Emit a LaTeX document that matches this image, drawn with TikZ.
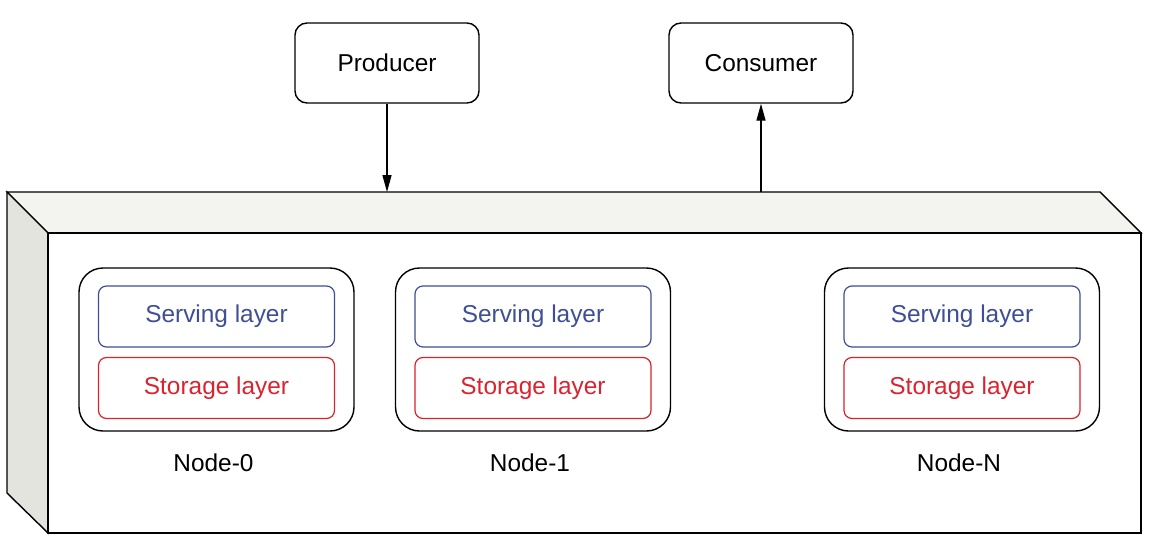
\documentclass[tikz,border=0pt]{standalone}
\usepackage{fontspec}
\setmainfont{Liberation Sans}
\usetikzlibrary{arrows.meta,positioning}
\definecolor{servblue}{HTML}{3F4F95}
\definecolor{storred}{HTML}{D9232E}
\definecolor{topface}{HTML}{F3F4EF}
\definecolor{sideface}{HTML}{E3E4DE}

\begin{document}
\begin{tikzpicture}[x=1pt,y=-1pt,line width=1.4pt,
  font=\fontsize{24.4}{29}\selectfont,
  client/.style={draw,rounded corners=12pt,minimum width=184pt,minimum height=80pt},
  broker/.style={draw,rounded corners=24pt,minimum width=275pt,minimum height=163pt},
  serving/.style={draw=servblue,text=servblue,line width=1.2pt,rounded corners=8pt,minimum width=236pt,minimum height=61pt},
  storage/.style={draw=storred,text=storred,line width=1.2pt,rounded corners=8pt,minimum width=236pt,minimum height=61pt},
  flow/.style={-{Triangle[length=17pt,width=9pt]}}]
  \useasboundingbox (0,0) rectangle (1154,554);
  % Cluster drawn as a box
  \coordinate (BL) at (7,192);
  \coordinate (BR) at (1100,192);
  \coordinate (FL) at (48,233);
  \coordinate (FR) at (1141,233);
  \coordinate (FBL) at (48,533);
  \coordinate (FBR) at (1141,533);
  \coordinate (BBL) at (7,493);
  \draw[fill=topface] (BL)--(BR)--(FR)--(FL)--cycle;
  \draw[fill=sideface] (BL)--(FL)--(FBL)--(BBL)--cycle;
  \draw[fill=white] (FL)--(FR)--(FBR)--(FBL)--cycle;
  % Clients
  \node[client] (producer) at (387,63) {Producer};
  \node[client] (consumer) at (761,63) {Consumer};
  \coordinate (in) at (producer.south |- BL);
  \coordinate (out) at (consumer.south |- BL);
  \draw[flow] (producer.south)--(in);
  \draw[flow] (out)--(consumer.south);
  % Nodes of the cluster
  \foreach \name/\x/\label in {n0/216.5/Node-0, n1/533/Node-1, nN/962/Node-N}{
    \node[broker] (\name) at (\x,349.5) {};
    \node[serving] (\name s) at (\x,316.5) {Serving layer};
    \node[storage] (\name t) at (\x,388) {Storage layer};
    \node (\name l) at (\x-3,463) {\label};
  }
\end{tikzpicture}
\end{document}
